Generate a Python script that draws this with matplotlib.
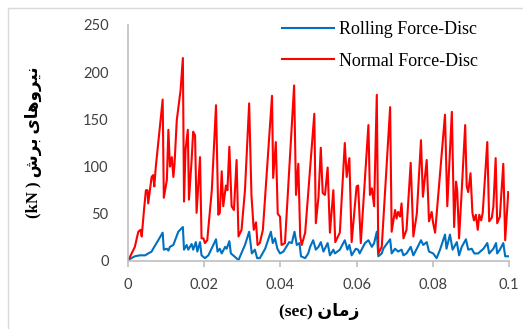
import numpy as np
import matplotlib.pyplot as plt
from matplotlib.patches import Rectangle

# time in hundredths of a second, forces in kN
t_normal = [0.00, 0.18, 0.27, 0.33, 0.36, 0.42, 0.47, 0.51, 0.53, 0.62, 0.66, 0.69, 0.73,
            0.91, 0.94, 1.02, 1.06, 1.10, 1.15, 1.19, 1.22, 1.28, 1.35, 1.38, 1.44, 1.47,
            1.51, 1.57, 1.60, 1.67, 1.71, 1.76, 1.80, 1.89, 1.93, 1.98, 2.02, 2.08, 2.20,
            2.31, 2.37, 2.41, 2.46, 2.50, 2.57, 2.61, 2.66, 2.72, 2.78, 2.85, 2.90, 2.98,
            3.07, 3.18, 3.24, 3.30, 3.36, 3.40, 3.46, 3.54, 3.78, 3.81, 3.88, 3.93, 3.99,
            4.03, 4.12, 4.36, 4.41, 4.47, 4.52, 4.56, 4.65, 4.89, 4.93, 5.00, 5.06, 5.11,
            5.17, 5.24, 5.30, 5.39, 5.44, 5.56, 5.69, 5.74, 5.81, 5.87, 6.00, 6.04, 6.11,
            6.31, 6.35, 6.40, 6.46, 6.53, 6.57, 6.66, 6.88, 6.92, 7.01, 7.05, 7.09, 7.14,
            7.18, 7.23, 7.31, 7.42, 7.49, 7.58, 7.69, 7.74, 7.84, 7.90, 7.97, 8.01, 8.06,
            8.32, 8.38, 8.50, 8.56, 8.61, 8.64, 8.69, 8.76, 8.85, 8.89, 8.93, 8.99, 9.04,
            9.08, 9.13, 9.18, 9.22, 9.27, 9.31, 9.43, 9.48, 9.55, 9.59, 9.65, 9.69, 9.76,
            9.85, 9.90, 9.98]
f_normal = [0, 15, 31, 33, 26, 54, 75, 75, 61, 89, 91, 79, 100,
            171, 67, 86, 139, 100, 110, 89, 102, 149, 172, 181, 215, 63,
            118, 139, 65, 107, 137, 133, 51, 110, 24, 24, 19, 22, 75,
            165, 49, 51, 95, 58, 80, 75, 121, 58, 54, 107, 26, 33,
            75, 167, 70, 33, 41, 17, 19, 33, 175, 88, 126, 50, 47,
            17, 19, 186, 70, 103, 26, 17, 30, 156, 40, 68, 120, 72,
            70, 99, 30, 75, 20, 30, 125, 89, 109, 20, 79, 80, 19,
            144, 70, 77, 58, 176, 8, 15, 163, 31, 54, 45, 52, 47,
            61, 24, 33, 104, 26, 50, 128, 68, 107, 42, 52, 40, 30,
            155, 58, 158, 36, 84, 75, 24, 75, 144, 79, 73, 93, 51,
            43, 49, 33, 49, 43, 51, 126, 42, 46, 58, 109, 40, 47,
            103, 22, 73]

t_rolling = [0.00, 0.18, 0.31, 0.45, 0.53, 0.62, 0.66, 0.75, 0.91, 0.94, 1.02, 1.06, 1.10,
             1.19, 1.32, 1.44, 1.47, 1.54, 1.58, 1.67, 1.71, 1.78, 1.82, 1.89, 1.93, 2.02,
             2.11, 2.31, 2.35, 2.41, 2.46, 2.55, 2.59, 2.66, 2.70, 2.76, 2.90, 3.07, 3.18,
             3.25, 3.33, 3.39, 3.46, 3.60, 3.75, 3.80, 3.86, 3.92, 3.99, 4.08, 4.23, 4.30,
             4.37, 4.43, 4.50, 4.54, 4.65, 4.73, 4.78, 4.86, 4.93, 5.00, 5.06, 5.13, 5.24,
             5.30, 5.39, 5.43, 5.56, 5.69, 5.76, 5.81, 5.87, 5.98, 6.04, 6.08, 6.22, 6.31,
             6.40, 6.46, 6.53, 6.57, 6.66, 6.70, 6.88, 6.92, 7.01, 7.09, 7.18, 7.23, 7.31,
             7.42, 7.49, 7.58, 7.69, 7.75, 7.84, 7.90, 8.01, 8.10, 8.19, 8.32, 8.36, 8.45,
             8.52, 8.63, 8.69, 8.76, 8.87, 8.93, 9.02, 9.09, 9.19, 9.33, 9.43, 9.48, 9.59,
             9.66, 9.69, 9.76, 9.85, 9.90, 9.98]
f_rolling = [1, 5, 6, 6, 8, 10, 13, 19, 30, 12, 13, 11, 15,
             17, 31, 36, 12, 17, 12, 18, 12, 20, 10, 20, 6, 3,
             6, 23, 10, 13, 8, 15, 13, 21, 8, 6, 1, 17, 31,
             8, 12, 3, 3, 13, 31, 19, 24, 13, 8, 10, 20, 19,
             31, 17, 19, 5, 3, 8, 15, 22, 12, 15, 20, 10, 19,
             6, 12, 8, 12, 22, 12, 17, 6, 13, 12, 8, 19, 22,
             15, 19, 31, 5, 8, 13, 23, 8, 13, 10, 12, 6, 8,
             15, 6, 13, 22, 17, 20, 10, 8, 3, 12, 28, 13, 28,
             12, 20, 6, 15, 23, 12, 13, 8, 8, 13, 19, 8, 13,
             19, 8, 12, 19, 5, 5]

x_ticks = [0, 0.02, 0.04, 0.06, 0.08, 0.1]
x_ticklabels = ['0', '0.02', '0.04', '0.06', '0.08', '0.1']
y_ticks = [0, 50, 100, 150, 200, 250]

# Persian labels written in shaped presentation forms, visual order
ylabel_txt = '(kN ) \uFEB5\uFEAE\uFE91 \uFEEF\uFE8E\uFEEB\uFEED\uFEAE\uFEF4\uFEE7'
xlabel_txt = '(sec) \uFEE5\uFE8E\uFEE3\uFEAF'

fig = plt.figure(figsize=(5.23, 3.29), dpi=100)
ax = fig.add_axes([128/523, 1 - 261/329, 381/523, 236/329])

ax.plot(np.array(t_rolling) / 100, f_rolling, color='#0070C0', lw=1.5,
        label='Rolling Force-Disc')
ax.plot(np.array(t_normal) / 100, f_normal, color='#FF0000', lw=1.5,
        label='Normal Force-Disc')

ax.set_xlim(0, 0.1)
ax.set_ylim(0, 250)
ax.set_xticks(x_ticks)
ax.set_xticklabels(x_ticklabels)
ax.set_yticks(y_ticks)

for s in ['top', 'right']:
    ax.spines[s].set_visible(False)
for s in ['left', 'bottom']:
    ax.spines[s].set_color('#bfbfbf')
    ax.spines[s].set_linewidth(1.2)

ax.tick_params(axis='y', length=0, pad=14, labelsize=10.5, labelcolor='#404040')
ax.tick_params(axis='x', length=4, width=1.2, color='#bfbfbf', pad=8,
               labelsize=10.5, labelcolor='#404040')
for lab in ax.get_xticklabels() + ax.get_yticklabels():
    lab.set_family('Lato')

fig.text(33/523, 1 - 142/329, ylabel_txt, rotation=90, ha='center', va='center',
         fontsize=12, fontweight='bold', family=['Liberation Serif', 'DejaVu Sans'])
fig.text(319/523, 1 - 312/329, xlabel_txt, ha='center', va='center',
         fontsize=12.5, fontweight='bold', family=['Liberation Serif', 'DejaVu Sans'])

leg = fig.legend(loc='upper left', bbox_to_anchor=(266/523, 1 - 5/329),
                 frameon=False, handlelength=2.85, handletextpad=0.3,
                 labelspacing=0.8, prop={'family': 'Liberation Serif', 'size': 13})

# light chart-area border
fig.patches.append(Rectangle((8/523, -0.5), 2, 1.5 - 8/329, transform=fig.transFigure,
                             fill=False, edgecolor='#d9d9d9', lw=1))

fig.savefig('out.png', dpi=100)
